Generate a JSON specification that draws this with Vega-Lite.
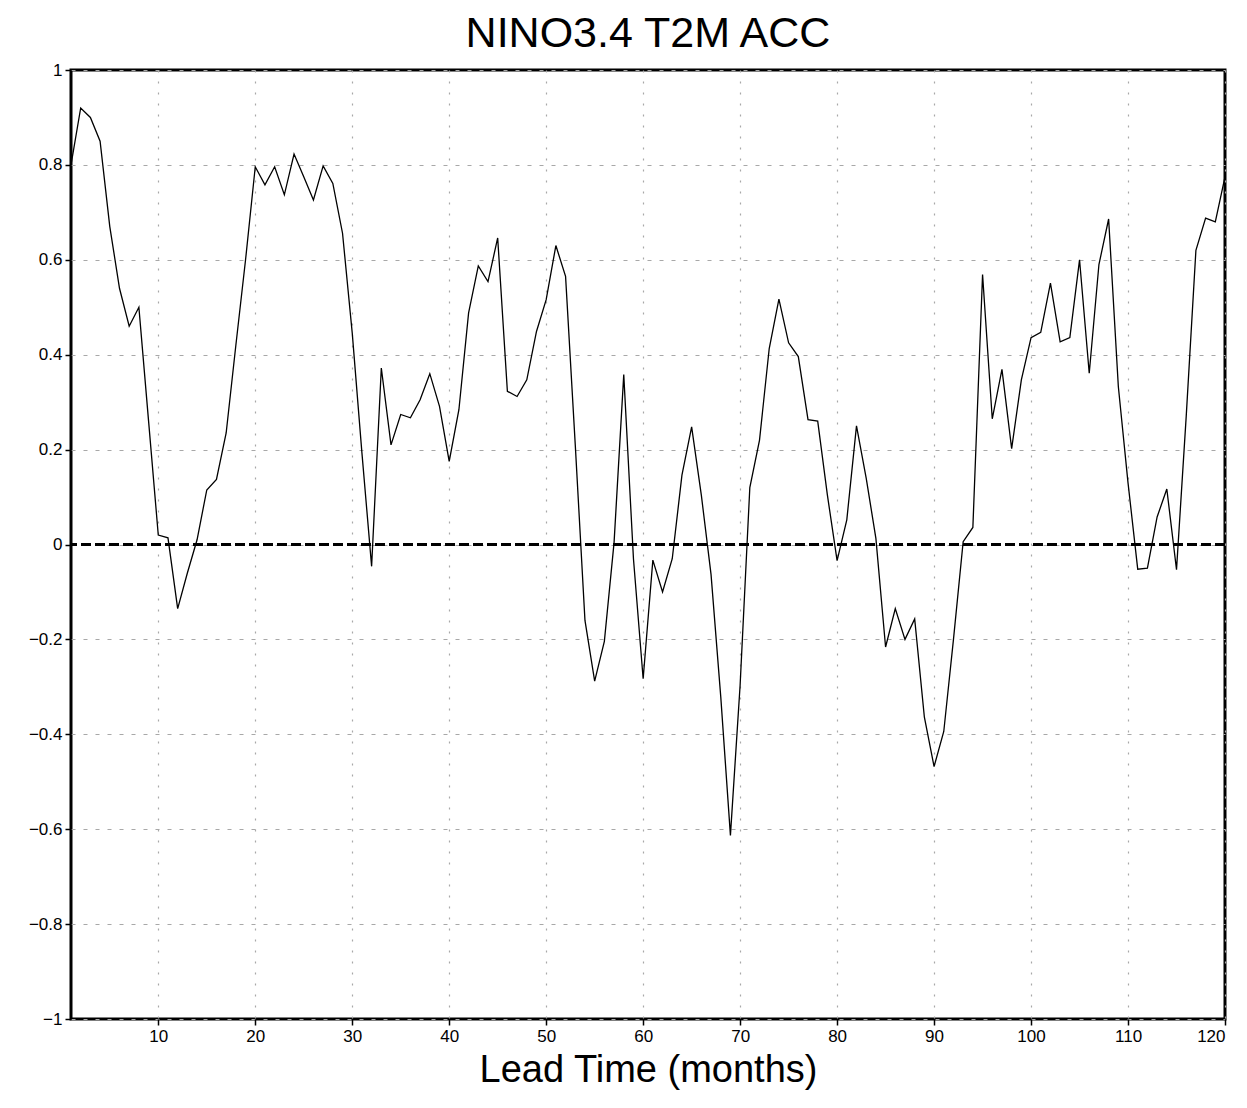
{
  "$schema": "https://vega.github.io/schema/vega-lite/v6.json",
  "autosize": "none",
  "width": 1154,
  "height": 949,
  "padding": {"left": 71, "top": 70, "right": 22, "bottom": 89},
  "background": "white",
  "title": {"text": "NINO3.4 T2M ACC", "fontSize": 43, "font": "Liberation Sans", "fontWeight": "normal", "color": "black", "offset": 5, "anchor": "middle"},
  "config": {"view": {"stroke": "black", "strokeWidth": 3}},
  "data": {"values": [
    {"lead": 1, "acc": 0.80}, {"lead": 2, "acc": 0.92}, {"lead": 3, "acc": 0.90}, {"lead": 4, "acc": 0.85},
    {"lead": 5, "acc": 0.67}, {"lead": 6, "acc": 0.54}, {"lead": 7, "acc": 0.46}, {"lead": 8, "acc": 0.50},
    {"lead": 9, "acc": 0.26}, {"lead": 10, "acc": 0.02}, {"lead": 11, "acc": 0.014}, {"lead": 12, "acc": -0.135},
    {"lead": 13, "acc": -0.06}, {"lead": 14, "acc": 0.01}, {"lead": 15, "acc": 0.115}, {"lead": 16, "acc": 0.137},
    {"lead": 17, "acc": 0.235}, {"lead": 18, "acc": 0.42}, {"lead": 19, "acc": 0.60}, {"lead": 20, "acc": 0.796},
    {"lead": 21, "acc": 0.758}, {"lead": 22, "acc": 0.796}, {"lead": 23, "acc": 0.737}, {"lead": 24, "acc": 0.823},
    {"lead": 25, "acc": 0.775}, {"lead": 26, "acc": 0.726}, {"lead": 27, "acc": 0.798}, {"lead": 28, "acc": 0.761},
    {"lead": 29, "acc": 0.656}, {"lead": 30, "acc": 0.446}, {"lead": 31, "acc": 0.193}, {"lead": 32, "acc": -0.046},
    {"lead": 33, "acc": 0.372}, {"lead": 34, "acc": 0.21}, {"lead": 35, "acc": 0.274}, {"lead": 36, "acc": 0.267},
    {"lead": 37, "acc": 0.305}, {"lead": 38, "acc": 0.36}, {"lead": 39, "acc": 0.291}, {"lead": 40, "acc": 0.175},
    {"lead": 41, "acc": 0.284}, {"lead": 42, "acc": 0.488}, {"lead": 43, "acc": 0.587}, {"lead": 44, "acc": 0.554},
    {"lead": 45, "acc": 0.646}, {"lead": 46, "acc": 0.323}, {"lead": 47, "acc": 0.312}, {"lead": 48, "acc": 0.347},
    {"lead": 49, "acc": 0.449}, {"lead": 50, "acc": 0.516}, {"lead": 51, "acc": 0.63}, {"lead": 52, "acc": 0.565},
    {"lead": 53, "acc": 0.21}, {"lead": 54, "acc": -0.16}, {"lead": 55, "acc": -0.288}, {"lead": 56, "acc": -0.204},
    {"lead": 57, "acc": 0.004}, {"lead": 58, "acc": 0.358}, {"lead": 59, "acc": -0.03}, {"lead": 60, "acc": -0.283},
    {"lead": 61, "acc": -0.033}, {"lead": 62, "acc": -0.10}, {"lead": 63, "acc": -0.03}, {"lead": 64, "acc": 0.146},
    {"lead": 65, "acc": 0.248}, {"lead": 66, "acc": 0.104}, {"lead": 67, "acc": -0.063}, {"lead": 68, "acc": -0.32},
    {"lead": 69, "acc": -0.613}, {"lead": 70, "acc": -0.296}, {"lead": 71, "acc": 0.12}, {"lead": 72, "acc": 0.22},
    {"lead": 73, "acc": 0.413}, {"lead": 74, "acc": 0.517}, {"lead": 75, "acc": 0.425}, {"lead": 76, "acc": 0.396},
    {"lead": 77, "acc": 0.263}, {"lead": 78, "acc": 0.26}, {"lead": 79, "acc": 0.104}, {"lead": 80, "acc": -0.034},
    {"lead": 81, "acc": 0.052}, {"lead": 82, "acc": 0.25}, {"lead": 83, "acc": 0.14}, {"lead": 84, "acc": 0.013},
    {"lead": 85, "acc": -0.216}, {"lead": 86, "acc": -0.135}, {"lead": 87, "acc": -0.20}, {"lead": 88, "acc": -0.157},
    {"lead": 89, "acc": -0.364}, {"lead": 90, "acc": -0.468}, {"lead": 91, "acc": -0.394}, {"lead": 92, "acc": -0.20},
    {"lead": 93, "acc": 0.006}, {"lead": 94, "acc": 0.036}, {"lead": 95, "acc": 0.569}, {"lead": 96, "acc": 0.265},
    {"lead": 97, "acc": 0.369}, {"lead": 98, "acc": 0.202}, {"lead": 99, "acc": 0.347}, {"lead": 100, "acc": 0.436},
    {"lead": 101, "acc": 0.447}, {"lead": 102, "acc": 0.551}, {"lead": 103, "acc": 0.427}, {"lead": 104, "acc": 0.436},
    {"lead": 105, "acc": 0.60}, {"lead": 106, "acc": 0.361}, {"lead": 107, "acc": 0.59}, {"lead": 108, "acc": 0.686},
    {"lead": 109, "acc": 0.333}, {"lead": 110, "acc": 0.13}, {"lead": 111, "acc": -0.052}, {"lead": 112, "acc": -0.05},
    {"lead": 113, "acc": 0.058}, {"lead": 114, "acc": 0.117}, {"lead": 115, "acc": -0.053}, {"lead": 116, "acc": 0.27},
    {"lead": 117, "acc": 0.62}, {"lead": 118, "acc": 0.688}, {"lead": 119, "acc": 0.68}, {"lead": 120, "acc": 0.775}
  ]},
  "layer": [
    {
      "mark": {"type": "line", "color": "black", "strokeWidth": 1.3},
      "encoding": {
        "x": {
          "field": "lead", "type": "quantitative",
          "scale": {"domain": [1, 120], "nice": false, "zero": false},
          "axis": {
            "values": [10, 20, 30, 40, 50, 60, 70, 80, 90, 100, 110, 120],
            "title": "Lead Time (months)", "titleFont": "Liberation Sans", "titleFontSize": 38,
            "titleFontWeight": "normal", "titleColor": "black", "titlePadding": 7,
            "labelFont": "Liberation Sans", "labelFontSize": 17, "labelColor": "black", "labelPadding": 3,
            "tickColor": "black", "tickSize": 6, "tickWidth": 1.5, "domain": false,
            "grid": true, "gridColor": "#a8a8a8", "gridDash": [2, 9], "gridWidth": 1.2
          }
        },
        "y": {
          "field": "acc", "type": "quantitative",
          "scale": {"domain": [-1, 1], "nice": false},
          "axis": {
            "values": [-1, -0.8, -0.6, -0.4, -0.2, 0, 0.2, 0.4, 0.6, 0.8, 1],
            "format": ".1~f", "title": null,
            "labelFont": "Liberation Sans", "labelFontSize": 17, "labelColor": "black", "labelPadding": 3,
            "tickColor": "black", "tickSize": 6, "tickWidth": 1.5, "domain": false,
            "grid": true, "gridColor": "#a8a8a8", "gridDash": [4, 8], "gridWidth": 1.2
          }
        }
      }
    },
    {
      "mark": {"type": "rule", "stroke": "black", "strokeWidth": 1.5, "strokeDash": [10, 4]},
      "encoding": {"y": {"datum": 0, "type": "quantitative"}}
    }
  ]
}
